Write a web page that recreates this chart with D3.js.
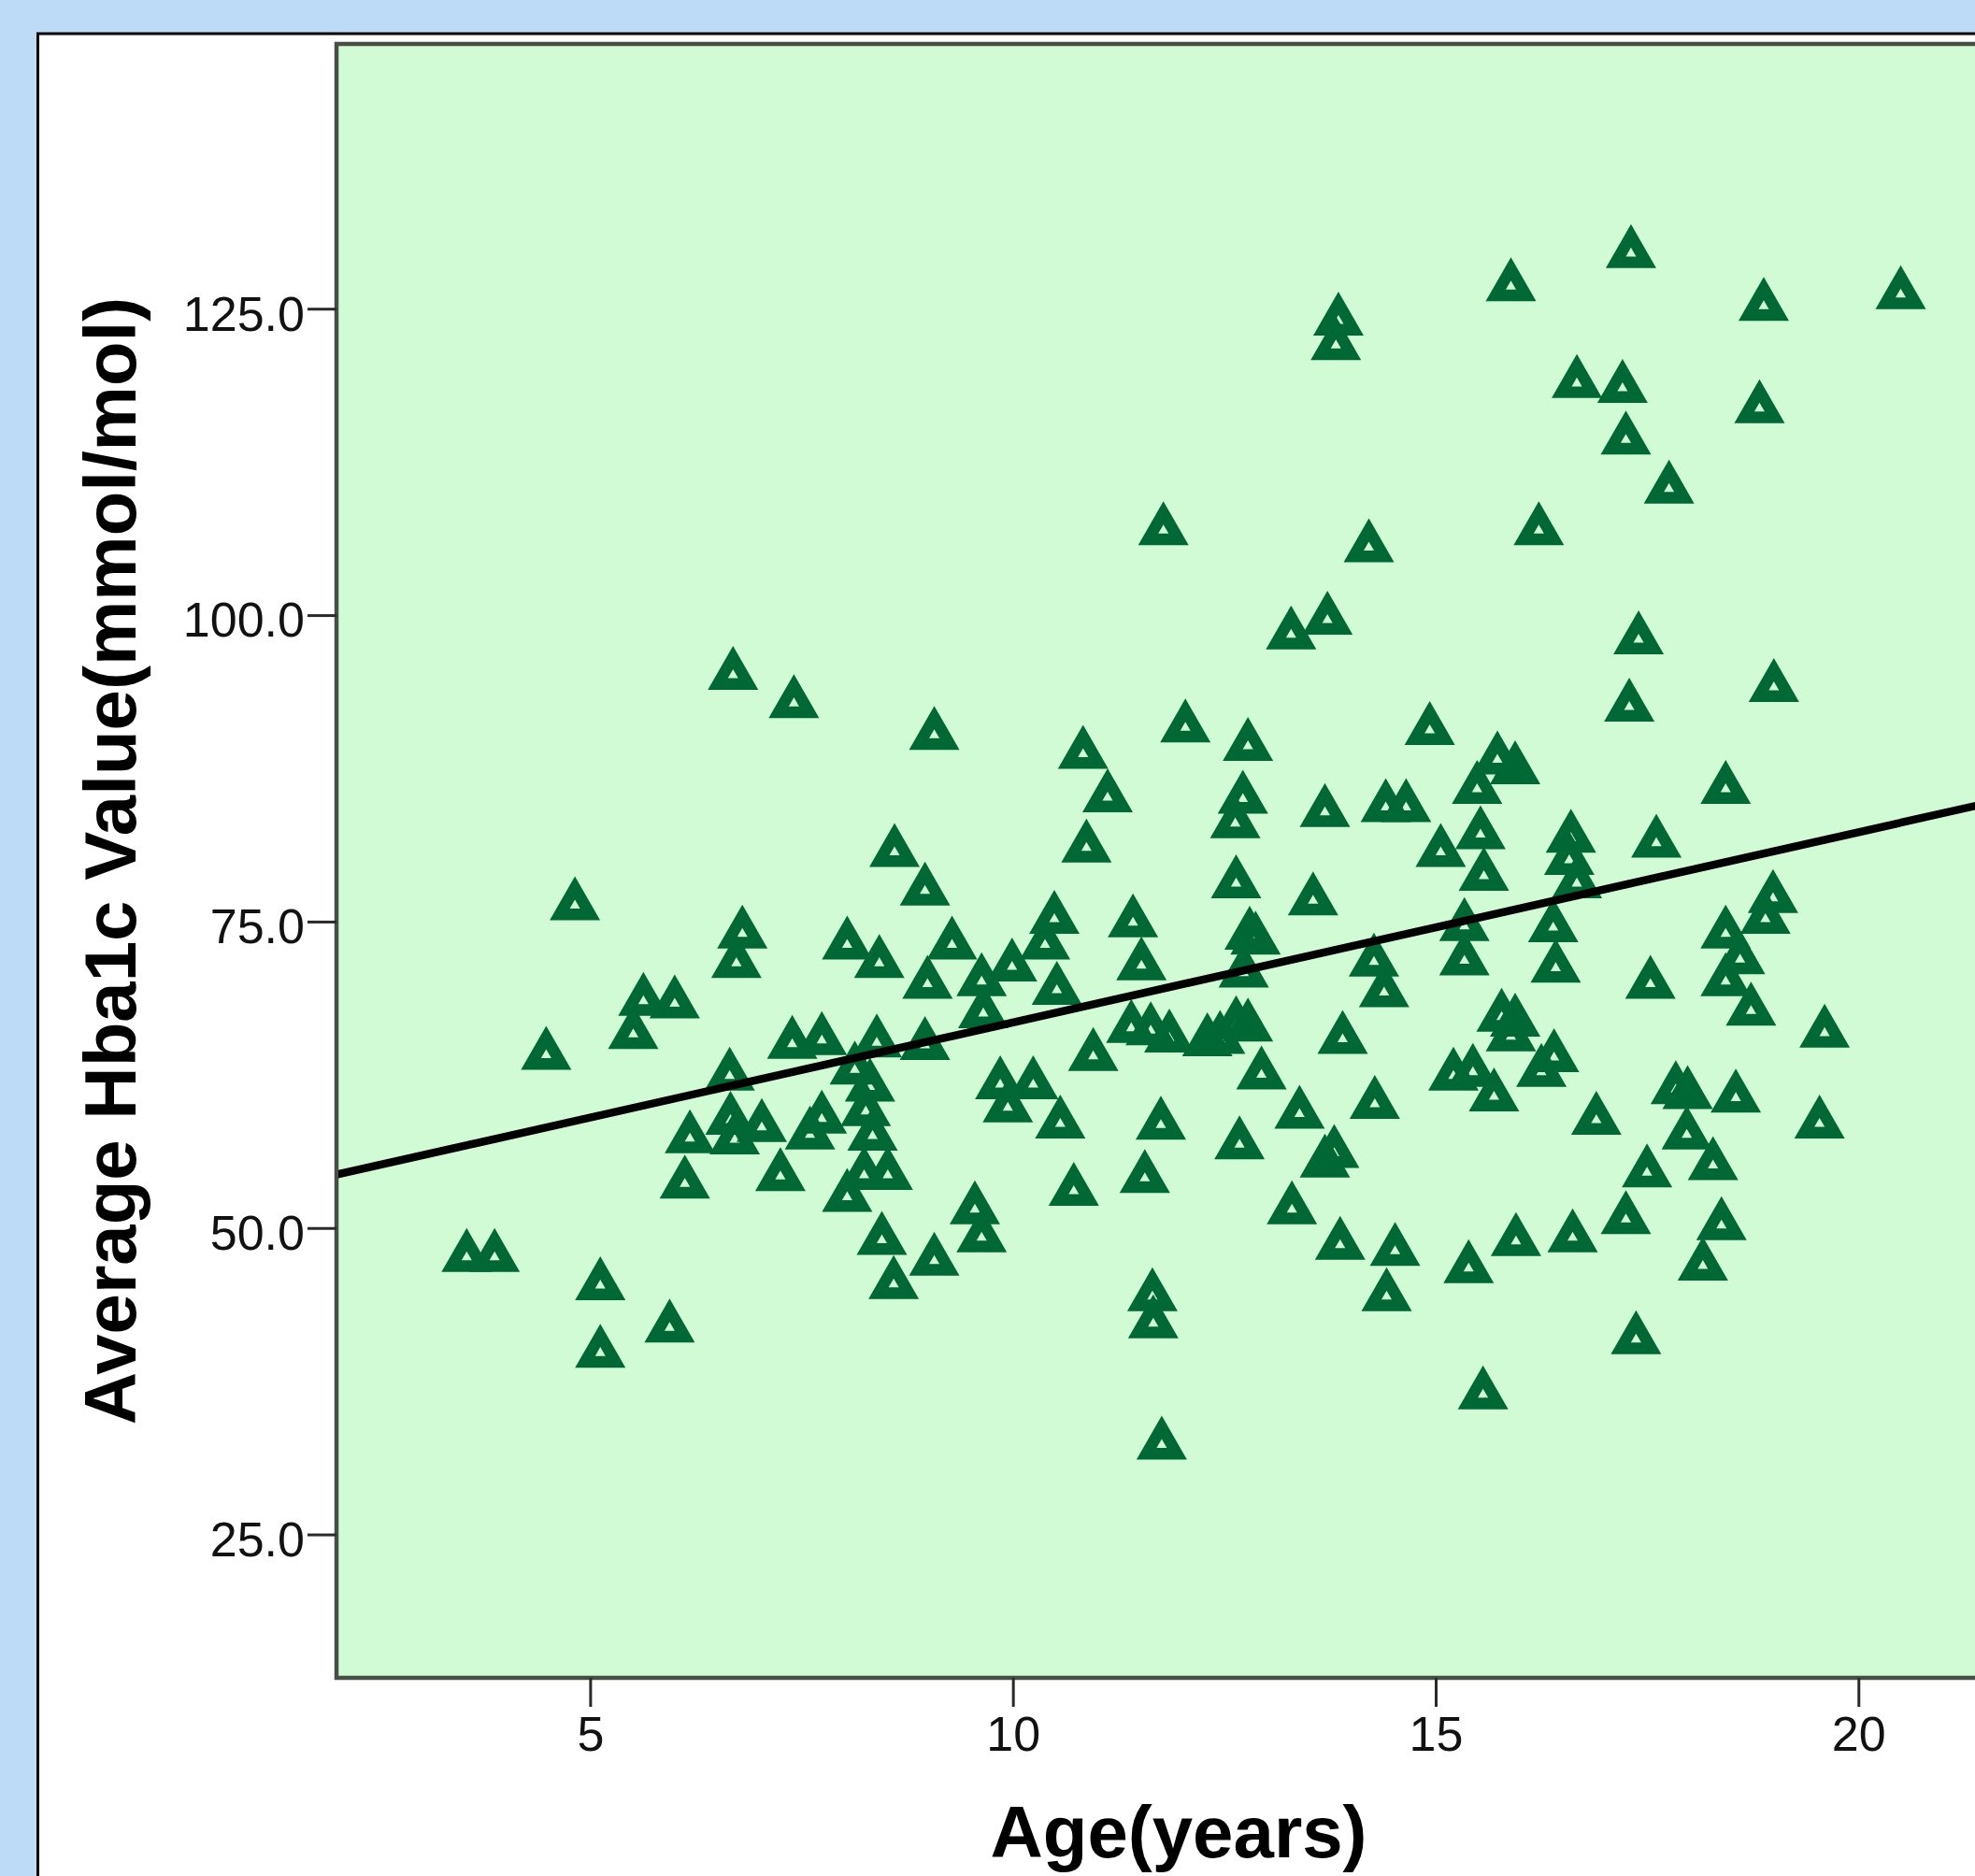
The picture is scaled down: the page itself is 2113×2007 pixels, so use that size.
<!DOCTYPE html>
<html>
<head>
<meta charset="utf-8">
<script src="https://cdn.jsdelivr.net/npm/d3@7"></script>
<style>
  body { margin: 0; background: #bddbf6; }
  svg { display: block; }
  text { font-family: "Liberation Sans", Arial, Helvetica, sans-serif; }
</style>
</head>
<body>
<div id="scatterChart"></div>
<script>
// age (years) of each patient
const ageValues = [
  3.54, 3.87, 4.48, 4.82, 5.12, 5.12, 5.94, 5.51, 5.63, 6.00,
  6.12, 6.18, 6.69, 6.80, 6.73, 6.65, 6.66, 6.71, 7.03, 7.25,
  7.41, 7.39, 7.74, 7.74, 7.60, 8.04, 8.04, 8.13, 8.26, 8.31,
  8.34, 8.39, 8.42, 8.24, 8.52, 8.45, 8.59, 8.60, 8.96, 9.07,
  8.96, 8.99, 9.07, 9.28, 9.63, 9.65, 9.55, 9.63, 9.85, 9.94,
  9.99, 10.24, 10.38, 10.49, 10.52, 10.56, 10.72, 10.83, 10.87, 10.95,
  11.12, 11.42, 11.52, 11.40, 11.63, 11.85, 11.56, 11.65, 11.66, 11.75,
  11.78, 11.76, 12.04, 12.30, 12.45, 12.64, 12.78, 12.63, 12.72, 12.78,
  12.64, 12.80, 12.87, 12.73, 12.68, 12.94, 13.30, 13.39, 13.29, 13.55,
  13.69, 13.72, 13.80, 13.69, 13.85, 13.82, 13.87, 13.90, 14.21, 14.27,
  14.28, 14.39, 14.41, 14.65, 14.42, 14.52, 14.93, 15.06, 15.21, 15.44,
  15.34, 15.34, 15.39, 15.49, 15.53, 15.57, 15.56, 15.69, 15.73, 15.94,
  15.78, 15.94, 15.89, 15.89, 15.95, 16.22, 16.25, 16.40, 16.39, 16.42,
  16.60, 16.58, 16.67, 16.67, 16.62, 16.90, 17.21, 17.25, 17.31, 17.29,
  17.40, 17.25, 17.37, 17.54, 17.61, 17.50, 17.76, 17.84, 17.98, 17.97,
  18.16, 18.28, 18.38, 18.43, 18.43, 18.60, 18.43, 18.73, 18.55, 18.83,
  18.88, 18.99, 18.90, 19.00, 19.60, 19.54, 20.50
];

// average Hba1c (mmol/mol), same order as ageValues
const hba1cValues = [
  48.2, 48.2, 64.7, 76.9, 45.9, 40.4, 42.45, 66.4, 69.1, 68.9,
  54.2, 57.9, 95.7, 74.6, 72.2, 63.0, 59.4, 57.8, 58.8, 54.8,
  93.4, 65.6, 65.9, 59.5, 58.2, 73.7, 53.1, 63.5, 60.1, 62.1,
  58.1, 65.7, 72.2, 54.9, 54.9, 49.6, 46.0, 81.25, 78.1, 90.8,
  65.5, 70.5, 47.9, 73.7, 70.7, 68.1, 52.1, 49.8, 62.3, 60.4,
  71.9, 62.3, 73.7, 75.8, 70.0, 59.1, 53.6, 89.25, 81.6, 64.6,
  85.7, 75.5, 72.0, 66.9, 66.7, 66.1, 54.65, 45.0, 42.8, 59.0,
  107.5, 32.9, 91.4, 65.8, 66.0, 67.2, 67.0, 83.6, 85.6, 89.9,
  78.7, 74.5, 74.1, 71.4, 57.4, 63.1, 52.1, 59.9, 99.0, 77.3,
  84.5, 100.2, 56.7, 55.9, 124.6, 122.6, 49.2, 66.0, 106.1, 72.3,
  60.7, 69.8, 84.9, 84.9, 45.0, 48.7, 91.2, 81.25, 63.0, 63.3,
  75.2, 72.4, 47.3, 86.4, 82.7, 79.3, 37.0, 61.3, 88.8, 88.0,
  67.8, 67.4, 66.2, 127.4, 49.5, 107.5, 63.3, 64.5, 75.1, 71.8,
  82.4, 80.6, 78.7, 119.5, 49.8, 59.4, 119.1, 114.9, 130.1, 93.1,
  98.6, 51.3, 41.5, 70.5, 82.0, 55.1, 110.9, 61.9, 61.5, 58.2,
  47.5, 55.7, 50.8, 86.4, 74.6, 72.5, 70.7, 68.3, 61.2, 117.45,
  125.8, 77.5, 75.8, 94.7, 66.5, 59.1, 126.75
];

// linear fit line (Hba1c = intercept + slope * age)
const fitIntercept = 51.25;
const fitSlope = 1.552;
const fitAges = [2, 22];

const xTicks = [5, 10, 15, 20];
const yTicks = [25, 50, 75, 100, 125];
const xTitle = "Age(years)";
const yTitle = "Average Hba1c Value(mmol/mol)";

const width = 2113;
const height = 2007;
const plot = { left: 360, top: 47, bottom: 1795, right: 360 + 20 * 90.46 };

const svg = d3.select("#scatterChart")
  .append("svg")
  .attr("width", width)
  .attr("height", height);

// white panel with black border (runs off the right/bottom edge)
svg.append("rect")
  .attr("x", 40.5).attr("y", 36)
  .attr("width", 2300).attr("height", 2200)
  .attr("fill", "#ffffff")
  .attr("stroke", "#000")
  .attr("stroke-width", 3);

const xscale = d3.scaleLinear()
  .domain([2, 22])
  .range([plot.left, plot.right]);

const yscale = d3.scaleLinear()
  .domain([13.3, 146.6])
  .range([plot.bottom, plot.top]);      // reversed

// plot background
svg.append("rect")
  .attr("x", plot.left).attr("y", plot.top)
  .attr("width", plot.right - plot.left)
  .attr("height", plot.bottom - plot.top)
  .attr("fill", "#d0fbd4")
  .attr("stroke", "#464e46")
  .attr("stroke-width", 4.5);

// axes
const yAxis = svg.append("g")
  .attr("transform", "translate(" + plot.left + ",0)")
  .call(d3.axisLeft(yscale)
    .tickValues(yTicks)
    .tickSize(31)
    .tickPadding(3)
    .tickFormat(d3.format(".1f")));

const xAxis = svg.append("g")
  .attr("transform", "translate(0," + plot.bottom + ")")
  .call(d3.axisBottom(xscale)
    .tickValues(xTicks)
    .tickSize(31)
    .tickPadding(10)
    .tickFormat(d3.format("d")));

[xAxis, yAxis].forEach(function (g) {
  g.select(".domain").remove();
  g.selectAll(".tick line").attr("stroke", "#2a2a2a").attr("stroke-width", 3);
  g.selectAll(".tick text")
    .attr("fill", "#111")
    .style("font-size", "52px")
    .style("font-family", "'Liberation Sans', Arial, sans-serif");
});
yAxis.selectAll(".tick text").attr("dy", "0.44em");

// triangle marker, bounding box centred on the point, small hole inside
function trianglePath(w, h, holeW) {
  const cy = h / 6;
  const hh = holeW * Math.sqrt(3) / 2;
  return "M0," + (-h / 2) + "L" + (w / 2) + "," + (h / 2) + "L" + (-w / 2) + "," + (h / 2) + "Z" +
    "M0," + (cy - 2 * hh / 3) + "L" + (holeW / 2) + "," + (cy + hh / 3) + "L" + (-holeW / 2) + "," + (cy + hh / 3) + "Z";
}
const marker = trianglePath(54, 47, 11);

const points = ageValues.map(function (a, i) {
  return { age: a, hba1c: hba1cValues[i] };
});

svg.append("defs").append("clipPath").attr("id", "plotClip")
  .append("rect")
  .attr("x", plot.left + 2).attr("y", plot.top + 2)
  .attr("width", plot.right - plot.left - 4)
  .attr("height", plot.bottom - plot.top - 4);

const inner = svg.append("g").attr("clip-path", "url(#plotClip)");

inner.selectAll(".pt")
  .data(points)
  .enter()
  .append("path")
  .attr("class", "pt")
  .attr("d", marker)
  .attr("fill-rule", "evenodd")
  .attr("fill", "#006834")
  .attr("transform", function (d) {
    return "translate(" + xscale(d.age) + "," + yscale(d.hba1c) + ")";
  });

// fit line on top
const fitLine = d3.line()
  .x(function (d) { return xscale(d); })
  .y(function (d) { return yscale(fitIntercept + fitSlope * d); });

inner.append("path")
  .datum(fitAges)
  .attr("d", fitLine)
  .attr("fill", "none")
  .attr("stroke", "#000")
  .attr("stroke-width", 8.5);

// axis titles
svg.append("text")
  .attr("x", 1261).attr("y", 1987)
  .attr("text-anchor", "middle")
  .style("font-size", "78px")
  .style("font-weight", "bold")
  .text(xTitle);

svg.append("text")
  .attr("transform", "translate(145,921) rotate(-90)")
  .attr("text-anchor", "middle")
  .style("font-size", "78px")
  .style("font-weight", "bold")
  .text(yTitle);
</script>
</body>
</html>
